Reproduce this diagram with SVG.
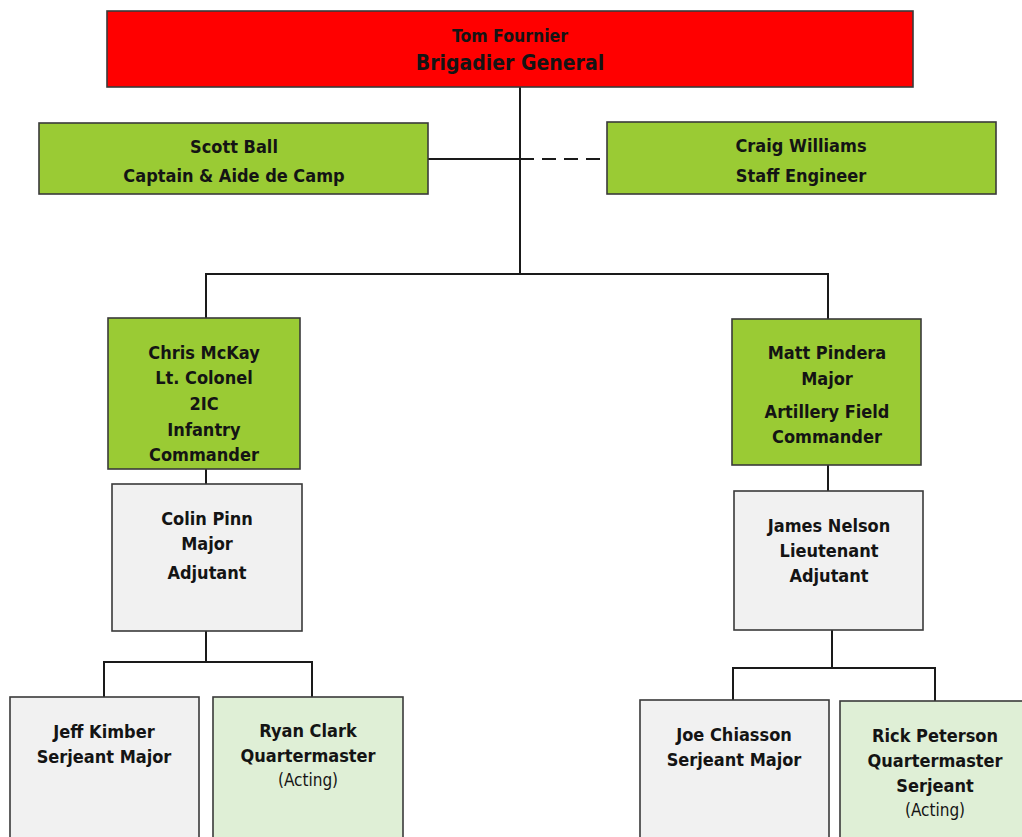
<svg xmlns="http://www.w3.org/2000/svg" width="1022" height="837" viewBox="0 0 1022 837">
<style>
.box{stroke:#3a3a3a;stroke-width:1.6}
.red{fill:#ff0000}
.grn{fill:#9acb34}
.gry{fill:#f1f1f1}
.lgr{fill:#dfefd6}
text{font-family:"Liberation Sans Narrow","DejaVu Sans Condensed","DejaVu Sans",sans-serif;font-stretch:condensed;font-weight:bold;font-size:18px;fill:#141414;text-anchor:middle}
.sm{font-weight:normal;font-size:17px}
.ln{stroke:#1a1a1a;stroke-width:2;fill:none}
</style>
<rect width="1022" height="837" fill="#ffffff"/>
<g id="connectors">
<path class="ln" d="M520 87V274M206 318V274H828V319M428 159H520"/>
<path class="ln" d="M520 159H607" stroke-dasharray="14,8"/>
<path class="ln" d="M206 469V484M206 631V662M104 697V662H312V697"/>
<path class="ln" d="M828 465V491M832 630V668M733 700V668H935V701"/>
</g>
<g id="tom"><rect class="box red" x="107" y="11" width="806" height="76"/>
<text x="510" y="42" style="font-size:17.5px">Tom Fournier</text><text x="510" y="70" style="font-size:21px">Brigadier General</text></g>
<g id="scott"><rect class="box grn" x="39" y="123" width="389" height="71"/>
<text x="234" y="153">Scott Ball</text><text x="234" y="182">Captain &amp; Aide de Camp</text></g>
<g id="craig"><rect class="box grn" x="607" y="122" width="389" height="72"/>
<text x="801" y="152">Craig Williams</text><text x="801" y="182">Staff Engineer</text></g>
<g id="chris"><rect class="box grn" x="108" y="318" width="192" height="151"/>
<text x="204" y="359">Chris McKay</text><text x="204" y="384">Lt. Colonel</text><text x="204" y="410">2IC</text><text x="204" y="436">Infantry</text><text x="204" y="461">Commander</text></g>
<g id="colin"><rect class="box gry" x="112" y="484" width="190" height="147"/>
<text x="207" y="525">Colin Pinn</text><text x="207" y="550">Major</text><text x="207" y="579">Adjutant</text></g>
<g id="jeff"><rect class="box gry" x="10" y="697" width="189" height="150"/>
<text x="104" y="738">Jeff Kimber</text><text x="104" y="763">Serjeant Major</text></g>
<g id="ryan"><rect class="box lgr" x="213" y="697" width="190" height="150"/>
<text x="308" y="737">Ryan Clark</text><text x="308" y="762">Quartermaster</text><text class="sm" x="308" y="786">(Acting)</text></g>
<g id="matt"><rect class="box grn" x="732" y="319" width="189" height="146"/>
<text x="827" y="359">Matt Pindera</text><text x="827" y="385">Major</text><text x="827" y="418">Artillery Field</text><text x="827" y="443">Commander</text></g>
<g id="james"><rect class="box gry" x="734" y="491" width="189" height="139"/>
<text x="829" y="532">James Nelson</text><text x="829" y="557">Lieutenant</text><text x="829" y="582">Adjutant</text></g>
<g id="joe"><rect class="box gry" x="640" y="700" width="189" height="150"/>
<text x="734" y="741">Joe Chiasson</text><text x="734" y="766">Serjeant Major</text></g>
<g id="rick"><rect class="box lgr" x="840" y="701" width="190" height="150"/>
<text x="935" y="742">Rick Peterson</text><text x="935" y="767">Quartermaster</text><text x="935" y="792">Serjeant</text><text class="sm" x="935" y="816">(Acting)</text></g>
</svg>
